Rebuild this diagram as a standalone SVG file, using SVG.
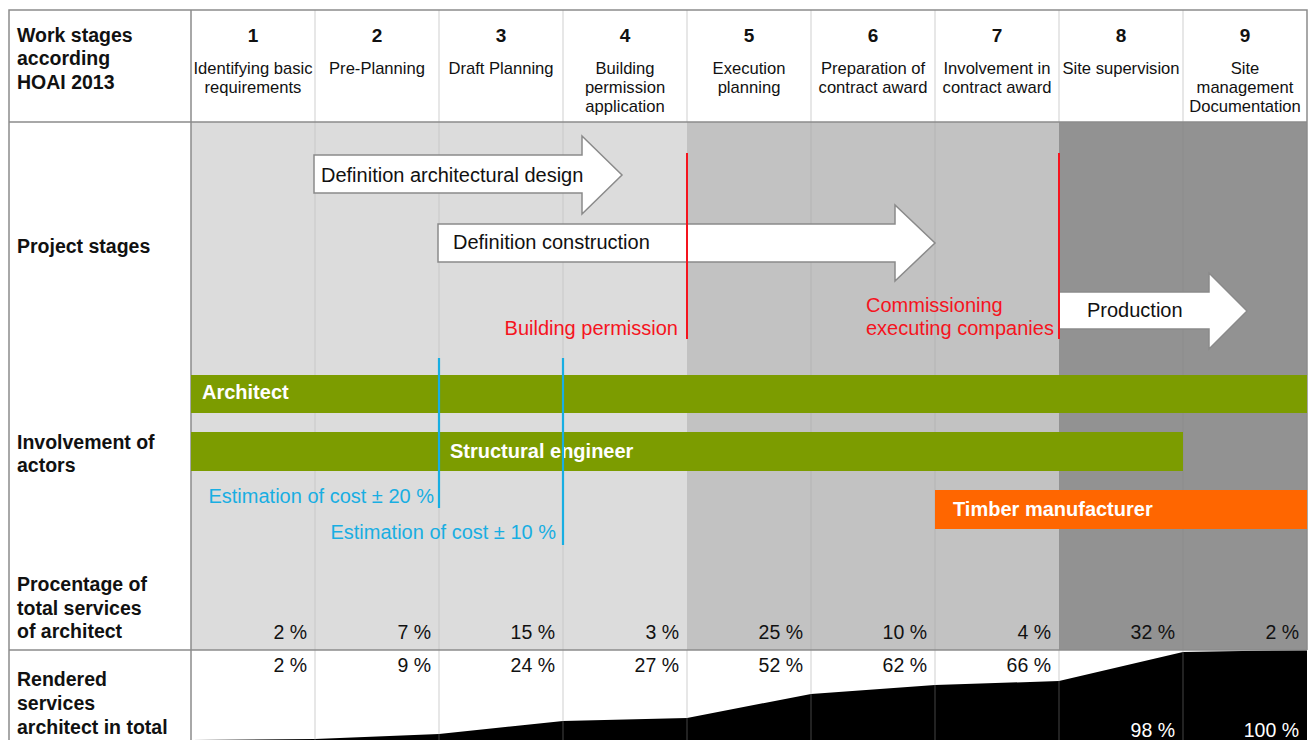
<svg xmlns="http://www.w3.org/2000/svg" width="1311" height="740" viewBox="0 0 1311 740">
  <style>
    text { font-family: "Liberation Sans", Arial, sans-serif; fill: #111; }
    .lbl { font-size: 19.5px; font-weight: bold; }
    .num { font-size: 19px; font-weight: bold; text-anchor: middle; }
    .hd { font-size: 16.6px; text-anchor: middle; }
    .arr { font-size: 20px; }
    .pct { font-size: 19.5px; text-anchor: end; }
    .red { font-size: 20px; fill: #f5141e; }
    .blue { font-size: 20px; fill: #18aee2; text-anchor: end; }
    .bar { font-size: 20px; font-weight: bold; fill: #fff; }
    .stage { fill: #fff; stroke: #8a8a8a; stroke-width: 1.5; }
    .sep { stroke: #999; stroke-width: 1; opacity: 0.45; }
    .sepb { stroke: #777; stroke-width: 1; opacity: 0.18; }
    .frame { stroke: #8c8c8c; stroke-width: 1.5; fill: none; }
    .redline { stroke: #f5141e; stroke-width: 2; }
    .blueline { stroke: #18aee2; stroke-width: 2.2; }
  </style>

  <!-- page background -->
  <rect x="0" y="0" width="1311" height="740" fill="#fff"/>

  <!-- shaded phases in the body -->
  <g id="phases">
    <rect x="191" y="122" width="496" height="528" fill="#dcdcdc"/>
    <rect x="687" y="122" width="372" height="528" fill="#c2c2c2"/>
    <rect x="1059" y="122" width="248" height="528" fill="#929292"/>
  </g>

  <!-- cumulative rendered services (area) -->
  <g id="cumulative">
    <polygon fill="#000" points="191,740 315,739 439,734 563,721 687,718 811,694 935,685 1059,681 1183,652 1307,650 1307,740"/>
  </g>

  <!-- column separators -->
  <g id="grid">
    <g class="sep">
      <line x1="315" y1="10" x2="315" y2="122"/><line x1="439" y1="10" x2="439" y2="122"/>
      <line x1="563" y1="10" x2="563" y2="122"/><line x1="687" y1="10" x2="687" y2="122"/>
      <line x1="811" y1="10" x2="811" y2="122"/><line x1="935" y1="10" x2="935" y2="122"/>
      <line x1="1059" y1="10" x2="1059" y2="122"/><line x1="1183" y1="10" x2="1183" y2="122"/>
      <line x1="315" y1="650" x2="315" y2="740"/><line x1="439" y1="650" x2="439" y2="740"/>
      <line x1="563" y1="650" x2="563" y2="740"/><line x1="687" y1="650" x2="687" y2="740"/>
      <line x1="811" y1="650" x2="811" y2="740"/><line x1="935" y1="650" x2="935" y2="740"/>
      <line x1="1059" y1="650" x2="1059" y2="740"/><line x1="1183" y1="650" x2="1183" y2="740"/>
    </g>
    <g class="sepb">
      <line x1="315" y1="122" x2="315" y2="650"/><line x1="439" y1="122" x2="439" y2="650"/>
      <line x1="563" y1="122" x2="563" y2="650"/><line x1="811" y1="122" x2="811" y2="650"/>
      <line x1="935" y1="122" x2="935" y2="650"/><line x1="1183" y1="122" x2="1183" y2="650"/>
    </g>
    <path class="frame" d="M9,740 V10 H1307 V650 M191,10 V740 M9,122 H1307 M9,650 H1307"/>
  </g>

  <!-- header row -->
  <g id="header">
    <text class="lbl" x="17" y="42">Work stages</text>
    <text class="lbl" x="17" y="65">according</text>
    <text class="lbl" x="17" y="89">HOAI 2013</text>

    <text class="num" x="253" y="42">1</text>
    <text class="hd" x="253" y="74">Identifying basic</text>
    <text class="hd" x="253" y="93">requirements</text>

    <text class="num" x="377" y="42">2</text>
    <text class="hd" x="377" y="74">Pre-Planning</text>

    <text class="num" x="501" y="42">3</text>
    <text class="hd" x="501" y="74">Draft Planning</text>

    <text class="num" x="625" y="42">4</text>
    <text class="hd" x="625" y="74">Building</text>
    <text class="hd" x="625" y="93">permission</text>
    <text class="hd" x="625" y="112">application</text>

    <text class="num" x="749" y="42">5</text>
    <text class="hd" x="749" y="74">Execution</text>
    <text class="hd" x="749" y="93">planning</text>

    <text class="num" x="873" y="42">6</text>
    <text class="hd" x="873" y="74">Preparation of</text>
    <text class="hd" x="873" y="93">contract award</text>

    <text class="num" x="997" y="42">7</text>
    <text class="hd" x="997" y="74">Involvement in</text>
    <text class="hd" x="997" y="93">contract award</text>

    <text class="num" x="1121" y="42">8</text>
    <text class="hd" x="1121" y="74">Site supervision</text>

    <text class="num" x="1245" y="42">9</text>
    <text class="hd" x="1245" y="74">Site</text>
    <text class="hd" x="1245" y="93">management</text>
    <text class="hd" x="1245" y="112">Documentation</text>
  </g>

  <!-- row labels -->
  <g id="row-labels">
    <text class="lbl" x="17" y="253">Project stages</text>
    <text class="lbl" x="17" y="449">Involvement of</text>
    <text class="lbl" x="17" y="472">actors</text>
    <text class="lbl" x="17" y="591">Procentage of</text>
    <text class="lbl" x="17" y="615">total services</text>
    <text class="lbl" x="17" y="638">of architect</text>
    <text class="lbl" x="17" y="686">Rendered</text>
    <text class="lbl" x="17" y="710">services</text>
    <text class="lbl" x="17" y="734">architect in total</text>
  </g>

  <!-- project stage arrows -->
  <g id="stage-design">
    <path class="stage" d="M314,155 H582 V136 L622,175 L582,214 V193 H314 Z"/>
    <text class="arr" x="321" y="182">Definition architectural design</text>
  </g>
  <g id="stage-construction">
    <path class="stage" d="M438,224 H895 V205 L935,243 L895,281 V262 H438 Z"/>
    <text class="arr" x="453" y="249">Definition construction</text>
  </g>
  <g id="stage-production">
    <path class="stage" d="M1059,292 H1209 V273 L1247,311 L1209,349 V329 H1059"/>
    <text class="arr" x="1087" y="317">Production</text>
  </g>

  <!-- actor bars -->
  <g id="actor-architect">
    <rect x="191" y="375" width="1116" height="38" fill="#7c9c00"/>
    <text class="bar" x="202" y="399">Architect</text>
  </g>
  <g id="actor-structural">
    <rect x="191" y="432" width="992" height="39" fill="#7c9c00"/>
    <text class="bar" x="450" y="458">Structural engineer</text>
  </g>
  <g id="actor-timber">
    <rect x="935" y="490" width="372" height="39" fill="#ff6600"/>
    <text class="bar" x="953" y="516">Timber manufacturer</text>
  </g>

  <!-- milestone markers -->
  <g id="connectors">
    <line class="redline" x1="687" y1="153" x2="687" y2="339"/>
    <line class="redline" x1="1059" y1="153" x2="1059" y2="339"/>
    <line class="blueline" x1="439" y1="358" x2="439" y2="508"/>
    <line class="blueline" x1="563" y1="358" x2="563" y2="545"/>
  </g>

  <g id="milestone-labels">
    <text class="red" x="678" y="335" text-anchor="end">Building permission</text>
    <text class="red" x="866" y="312">Commissioning</text>
    <text class="red" x="866" y="335">executing companies</text>
    <text class="blue" x="434" y="503">Estimation of cost ± 20 %</text>
    <text class="blue" x="556" y="539">Estimation of cost ± 10 %</text>
  </g>

  <!-- share of total services per stage -->
  <g id="shares">
    <text class="pct" x="307" y="639">2 %</text>
    <text class="pct" x="431" y="639">7 %</text>
    <text class="pct" x="555" y="639">15 %</text>
    <text class="pct" x="679" y="639">3 %</text>
    <text class="pct" x="803" y="639">25 %</text>
    <text class="pct" x="927" y="639">10 %</text>
    <text class="pct" x="1051" y="639">4 %</text>
    <text class="pct" x="1175" y="639">32 %</text>
    <text class="pct" x="1299" y="639">2 %</text>
  </g>

  <!-- cumulative totals -->
  <g id="totals">
    <text class="pct" x="307" y="672">2 %</text>
    <text class="pct" x="431" y="672">9 %</text>
    <text class="pct" x="555" y="672">24 %</text>
    <text class="pct" x="679" y="672">27 %</text>
    <text class="pct" x="803" y="672">52 %</text>
    <text class="pct" x="927" y="672">62 %</text>
    <text class="pct" x="1051" y="672">66 %</text>
    <text class="pct" x="1175" y="737" style="fill:#fff">98 %</text>
    <text class="pct" x="1299" y="737" style="fill:#fff">100 %</text>
  </g>
</svg>
